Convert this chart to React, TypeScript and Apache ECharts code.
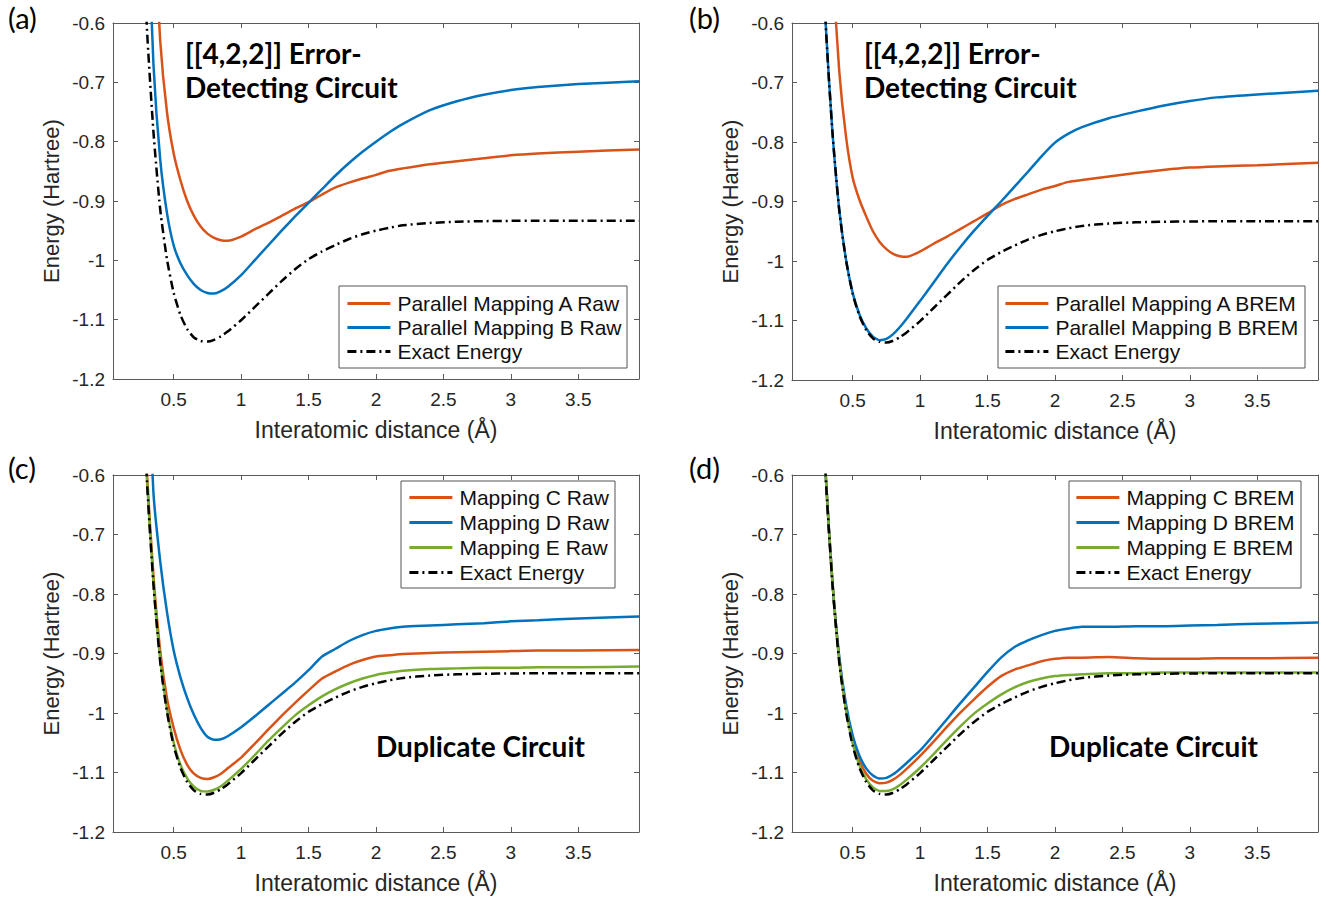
import React, { useEffect, useRef } from "react";
import * as echarts from "echarts";

// Interatomic distance grid (Å)
const X = [0.25, 0.3, 0.35, 0.4, 0.45, 0.5, 0.55, 0.6, 0.65, 0.7, 0.75, 0.8, 0.85, 0.9, 1.0, 1.1, 1.2, 1.3, 1.4, 1.5, 1.6, 1.7, 1.8, 1.9, 2.0, 2.1, 2.2, 2.4, 2.6, 2.8, 3.0, 3.2, 3.5, 3.95];

const X_TICKS = [0.5, 1, 1.5, 2, 2.5, 3, 3.5];

const exactEnergy = [-0.3, -0.602, -0.784, -0.914, -0.998, -1.055, -1.092, -1.116, -1.13, -1.136, -1.137, -1.134, -1.128, -1.12, -1.101, -1.079, -1.057, -1.035, -1.015, -0.998, -0.985, -0.974, -0.964, -0.956, -0.95, -0.945, -0.941, -0.937, -0.935, -0.934, -0.9335, -0.9333, -0.9332, -0.9332];

// (a) raw
const mapARaw = [-0.1, -0.25, -0.42, -0.63, -0.75, -0.82, -0.865, -0.9, -0.925, -0.943, -0.955, -0.962, -0.966, -0.967, -0.96, -0.948, -0.937, -0.925, -0.913, -0.902, -0.889, -0.877, -0.869, -0.862, -0.856, -0.849, -0.845, -0.838, -0.833, -0.828, -0.823, -0.82, -0.817, -0.813];
const mapBRaw = [-0.15, -0.38, -0.67, -0.83, -0.92, -0.975, -1.005, -1.025, -1.04, -1.05, -1.055, -1.056, -1.052, -1.045, -1.025, -1.0, -0.975, -0.95, -0.926, -0.903, -0.88, -0.857, -0.836, -0.817, -0.8, -0.784, -0.77, -0.747, -0.732, -0.721, -0.713, -0.708, -0.703, -0.698];

// (b) BREM
const mapABrem = [-0.05, -0.25, -0.5, -0.68, -0.79, -0.86, -0.897, -0.925, -0.95, -0.968, -0.98, -0.988, -0.992, -0.993, -0.984, -0.971, -0.959, -0.946, -0.933, -0.92, -0.906, -0.896, -0.888, -0.88, -0.874, -0.867, -0.864, -0.858, -0.852, -0.847, -0.843, -0.841, -0.839, -0.835];
const mapBBrem = [-0.3, -0.602, -0.784, -0.913, -0.997, -1.054, -1.09, -1.113, -1.127, -1.133, -1.131, -1.123, -1.111, -1.097, -1.067, -1.036, -1.005, -0.976, -0.949, -0.924, -0.9, -0.875, -0.85, -0.824, -0.801, -0.786, -0.775, -0.76, -0.749, -0.739, -0.731, -0.725, -0.72, -0.714];

// (c) raw
const mapCRaw = [-0.29, -0.59, -0.77, -0.895, -0.975, -1.025, -1.062, -1.087, -1.102, -1.109, -1.111, -1.108, -1.102, -1.093, -1.075, -1.052, -1.028, -1.005, -0.983, -0.962, -0.942, -0.93, -0.919, -0.911, -0.905, -0.903, -0.901, -0.899, -0.898, -0.897, -0.896, -0.895, -0.895, -0.894];
const mapDRaw = [-0.1, -0.35, -0.63, -0.745, -0.83, -0.895, -0.94, -0.975, -1.003, -1.025, -1.04, -1.045, -1.044, -1.039, -1.024, -1.006, -0.987, -0.968, -0.949, -0.928, -0.905, -0.892, -0.879, -0.869, -0.862, -0.858, -0.855, -0.853, -0.851, -0.849, -0.846, -0.844, -0.841, -0.838];
const mapERaw = [-0.3, -0.6, -0.78, -0.91, -0.993, -1.05, -1.087, -1.11, -1.124, -1.131, -1.132, -1.129, -1.123, -1.114, -1.094, -1.071, -1.047, -1.025, -1.004, -0.987, -0.972, -0.96, -0.95, -0.942, -0.936, -0.932, -0.929, -0.926, -0.925, -0.924, -0.924, -0.923, -0.923, -0.922];

// (d) BREM
const mapCBrem = [-0.3, -0.6, -0.78, -0.908, -0.99, -1.044, -1.08, -1.102, -1.114, -1.118, -1.117, -1.112, -1.104, -1.094, -1.072, -1.048, -1.023, -0.999, -0.977, -0.956, -0.938, -0.927, -0.92, -0.913, -0.909, -0.907, -0.907, -0.906, -0.908, -0.909, -0.909, -0.908, -0.908, -0.907];
const mapDBrem = [-0.3, -0.6, -0.78, -0.905, -0.985, -1.038, -1.072, -1.093, -1.105, -1.11, -1.109, -1.103, -1.094, -1.084, -1.063, -1.037, -1.01, -0.983, -0.957, -0.931, -0.907, -0.889, -0.878, -0.869, -0.862, -0.858, -0.855, -0.855, -0.854, -0.854, -0.853, -0.852, -0.85, -0.848];
const mapEBrem = [-0.3, -0.6, -0.781, -0.911, -0.994, -1.051, -1.088, -1.111, -1.125, -1.131, -1.131, -1.128, -1.121, -1.112, -1.092, -1.069, -1.045, -1.022, -1.001, -0.984, -0.969, -0.957, -0.948, -0.942, -0.938, -0.936, -0.935, -0.933, -0.933, -0.932, -0.932, -0.932, -0.932, -0.932];

const ORANGE = "#D95319";
const BLUE = "#0072BD";
const GREEN = "#77AC30";
const BLACK = "#000000";
const AXIS = "#5a5a5a";
const TEXT = "#262626";
const FONT = "'Liberation Sans', Arial, Helvetica, sans-serif";
const TITLE_FONT = "Lato, 'Open Sans', sans-serif";

const GRIDS = [
  { left: 113, top: 23, width: 526, height: 356 },
  { left: 792, top: 23, width: 526, height: 357 },
  { left: 113, top: 475, width: 526, height: 357 },
  { left: 792, top: 475, width: 526, height: 357 },
];

const pair = (ys: number[]) => X.map((x, i) => [x, ys[i]]);

const fmtY = (v: number) => String(Number(v.toFixed(2)));
const fmtX = (v: number) => String(Number(v.toFixed(2)));

export default function App() {
  const ref = useRef<HTMLDivElement>(null);
  useEffect(() => {
    if (!ref.current) return;
    const chart = echarts.init(ref.current, undefined, { renderer: "svg" });

    const panels = [
      {
        series: [
          { name: "Parallel Mapping A Raw", data: mapARaw, color: ORANGE },
          { name: "Parallel Mapping B Raw", data: mapBRaw, color: BLUE },
          { name: "Exact Energy", data: exactEnergy, color: BLACK, dash: true },
        ],
        legend: { left: 346, top: 293, gap: 3 },
        box: { x: 339, y: 286, w: 288, h: 82 },
      },
      {
        series: [
          { name: "Parallel Mapping A BREM", data: mapABrem, color: ORANGE },
          { name: "Parallel Mapping B BREM", data: mapBBrem, color: BLUE },
          { name: "Exact Energy", data: exactEnergy, color: BLACK, dash: true },
        ],
        legend: { left: 1004, top: 293, gap: 3 },
        box: { x: 998, y: 286, w: 307, h: 82 },
      },
      {
        series: [
          { name: "Mapping C Raw", data: mapCRaw, color: ORANGE },
          { name: "Mapping D Raw", data: mapDRaw, color: BLUE },
          { name: "Mapping E Raw", data: mapERaw, color: GREEN },
          { name: "Exact Energy", data: exactEnergy, color: BLACK, dash: true },
        ],
        legend: { left: 408, top: 487, gap: 4 },
        box: { x: 401, y: 481, w: 214, h: 107 },
      },
      {
        series: [
          { name: "Mapping C BREM", data: mapCBrem, color: ORANGE },
          { name: "Mapping D BREM", data: mapDBrem, color: BLUE },
          { name: "Mapping E BREM", data: mapEBrem, color: GREEN },
          { name: "Exact Energy", data: exactEnergy, color: BLACK, dash: true },
        ],
        legend: { left: 1075, top: 487, gap: 4 },
        box: { x: 1069, y: 481, w: 232, h: 107 },
      },
    ];

    const axisLine = { show: true, onZero: false, lineStyle: { color: AXIS, width: 1 } };
    const tickStyle = { color: AXIS, width: 1 };

    const xAxis: any[] = [];
    const yAxis: any[] = [];
    GRIDS.forEach((_, i) => {
      xAxis.push({
        type: "value",
        gridIndex: i,
        min: 0.05,
        max: 3.95,
        position: "bottom",
        axisLine,
        axisTick: { show: true, inside: true, length: 5, customValues: X_TICKS, lineStyle: tickStyle },
        axisLabel: { customValues: X_TICKS, formatter: fmtX, fontSize: 19, color: TEXT, fontFamily: FONT, margin: 11 },
        splitLine: { show: false },
        name: "Interatomic distance (Å)",
        nameLocation: "middle",
        nameGap: 39,
        nameTextStyle: { fontSize: 23, color: TEXT, fontFamily: FONT },
      });
      yAxis.push({
        type: "value",
        gridIndex: i,
        min: -1.2,
        max: -0.6,
        interval: 0.1,
        position: "left",
        axisLine,
        axisTick: { show: true, inside: true, length: 5, lineStyle: tickStyle },
        axisLabel: { formatter: fmtY, fontSize: 19, color: TEXT, fontFamily: FONT, margin: 8 },
        splitLine: { show: false },
        name: "Energy (Hartree)",
        nameLocation: "middle",
        nameRotate: 90,
        nameGap: 51,
        nameTextStyle: { fontSize: 22, color: TEXT, fontFamily: FONT },
      });
    });
    GRIDS.forEach((_, i) => {
      xAxis.push({
        type: "value",
        gridIndex: i,
        min: 0.05,
        max: 3.95,
        position: "top",
        axisLine,
        axisTick: { show: true, inside: true, length: 5, customValues: X_TICKS, lineStyle: tickStyle },
        axisLabel: { show: false, customValues: X_TICKS },
        splitLine: { show: false },
      });
      yAxis.push({
        type: "value",
        gridIndex: i,
        min: -1.2,
        max: -0.6,
        interval: 0.1,
        position: "right",
        axisLine,
        axisTick: { show: true, inside: true, length: 5, lineStyle: tickStyle },
        axisLabel: { show: false },
        splitLine: { show: false },
      });
    });

    const series: any[] = [];
    const legends: any[] = [];
    const graphics: any[] = [];
    panels.forEach((p, i) => {
      p.series.forEach((s: any) => {
        series.push({
          type: "line",
          name: s.name,
          xAxisIndex: i,
          yAxisIndex: i,
          data: pair(s.data),
          showSymbol: false,
          symbol: "none",
          smooth: 0.2,
          clip: true,
          lineStyle: { color: s.color, width: 2.5, type: s.dash ? [9, 4, 2, 4] : "solid" },
          itemStyle: { color: s.color },
          z: s.dash ? 5 : 3,
        });
      });
      legends.push({
        show: true,
        orient: "vertical",
        left: p.legend.left,
        top: p.legend.top,
        padding: 0,
        itemGap: p.legend.gap,
        itemWidth: 43,
        itemHeight: 14,
        selectedMode: false,
        itemStyle: { opacity: 0, borderWidth: 0 },
        lineStyle: { width: 2.8 },
        data: p.series.map((s: any) => s.name),
        textStyle: { fontSize: 21, lineHeight: 20, color: "#111", fontFamily: FONT, padding: [0, 0, 0, 2] },
      });
      graphics.push({
        type: "rect",
        shape: { x: p.box.x, y: p.box.y, width: p.box.w, height: p.box.h },
        style: { fill: "#fff", stroke: "#555", lineWidth: 1 },
        z: 1,
      });
    });

    const label = (text: string, x: number, y: number) => ({
      type: "text",
      x,
      y,
      style: { text, fontSize: 29, fontFamily: TITLE_FONT, fill: "#000", verticalAlign: "middle" },
      z: 10,
    });
    const title = (text: string, x: number, y: number) => ({
      type: "text",
      x,
      y,
      style: { text, fontSize: 28, fontWeight: "bold", fontFamily: TITLE_FONT, fill: "#000", verticalAlign: "middle" },
      z: 10,
    });
    graphics.push(label("(a)", 8, 17));
    graphics.push(label("(b)", 689, 17));
    graphics.push(label("(c)", 8, 467));
    graphics.push(label("(d)", 689, 467));
    graphics.push(title("[[4,2,2]] Error-", 185, 53));
    graphics.push(title("Detecting Circuit", 185, 87));
    graphics.push(title("[[4,2,2]] Error-", 864, 53));
    graphics.push(title("Detecting Circuit", 864, 87));
    graphics.push(title("Duplicate Circuit", 376, 746));
    graphics.push(title("Duplicate Circuit", 1049, 746));

    chart.setOption({
      animation: false,
      backgroundColor: "#fff",
      grid: GRIDS.map((g) => ({ ...g, containLabel: false })),
      xAxis,
      yAxis,
      series,
      legend: legends,
      graphic: graphics,
    });
    return () => chart.dispose();
  }, []);
  return <div ref={ref} style={{ position: "fixed", left: 0, top: 0, width: 1332, height: 898 }} />;
}
